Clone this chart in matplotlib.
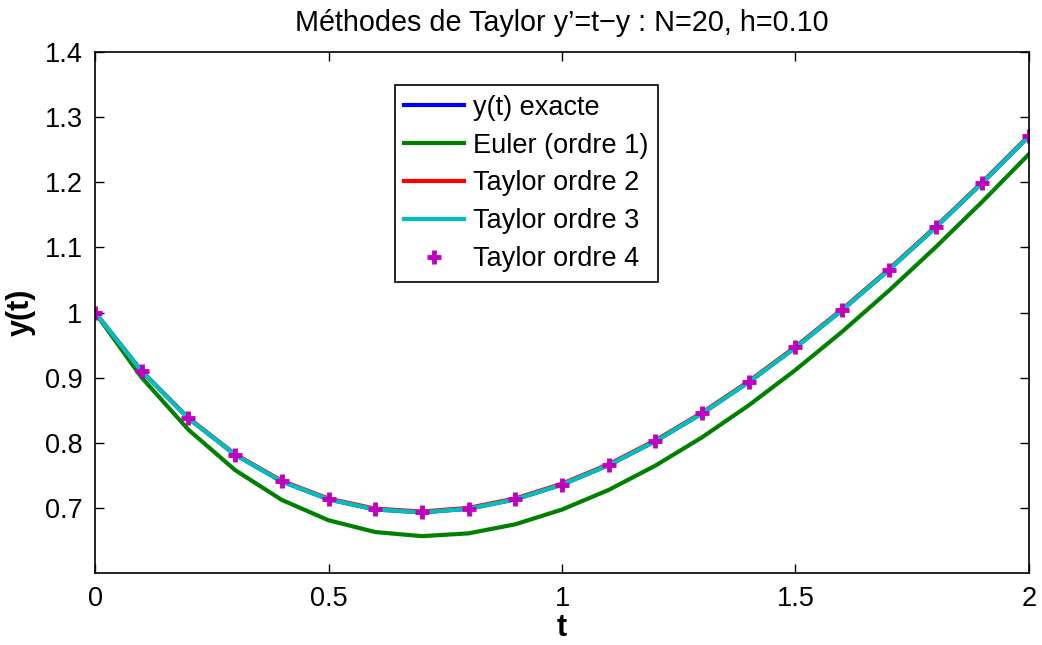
import matplotlib
matplotlib.use("Agg")
import matplotlib.pyplot as plt

# Données (pas h=0.10, N=20)
t = [0.0, 0.1, 0.2, 0.3, 0.4, 0.5, 0.6, 0.7, 0.8, 0.9, 1.0,
     1.1, 1.2, 1.3, 1.4, 1.5, 1.6, 1.7, 1.8, 1.9, 2.0]
y_exacte = [1.0000, 0.9097, 0.8375, 0.7816, 0.7406, 0.7131, 0.6976, 0.6932,
            0.6987, 0.7131, 0.7358, 0.7657, 0.8024, 0.8451, 0.8932, 0.9463,
            1.0038, 1.0654, 1.1306, 1.1991, 1.2707]
y_euler = [1.0000, 0.9000, 0.8200, 0.7580, 0.7122, 0.6810, 0.6629, 0.6566,
           0.6609, 0.6748, 0.6974, 0.7276, 0.7649, 0.8084, 0.8575, 0.9118,
           0.9706, 1.0335, 1.1002, 1.1702, 1.2432]
y_taylor2 = [1.0000, 0.9100, 0.8381, 0.7824, 0.7416, 0.7142, 0.6988, 0.6944,
             0.7000, 0.7145, 0.7371, 0.7671, 0.8037, 0.8463, 0.8944, 0.9475,
             1.0050, 1.0665, 1.1317, 1.2002, 1.2716]
y_taylor3 = [1.0000, 0.9097, 0.8375, 0.7816, 0.7406, 0.7131, 0.6976, 0.6932,
             0.6987, 0.7131, 0.7358, 0.7658, 0.8024, 0.8451, 0.8932, 0.9463,
             1.0038, 1.0654, 1.1306, 1.1992, 1.2707]
y_taylor4 = [1.0000, 0.9097, 0.8375, 0.7816, 0.7406, 0.7131, 0.6976, 0.6932,
             0.6987, 0.7131, 0.7358, 0.7657, 0.8024, 0.8451, 0.8932, 0.9463,
             1.0038, 1.0654, 1.1306, 1.1991, 1.2707]

xticks = [0, 0.5, 1, 1.5, 2]
xtick_labels = ["0", "0.5", "1", "1.5", "2"]
yticks = [0.7, 0.8, 0.9, 1.0, 1.1, 1.2, 1.3, 1.4]
ytick_labels = ["0.7", "0.8", "0.9", "1", "1.1", "1.2", "1.3", "1.4"]

plt.rcParams['font.family'] = ['Liberation Sans', 'DejaVu Sans']

fig = plt.figure(figsize=(10.42, 6.45), dpi=100)
ax = fig.add_axes([0.0912, 0.1116, 0.8963, 0.8078])

ax.plot(t, y_exacte, color='#0000ff', lw=3, label='y(t) exacte')
ax.plot(t, y_euler, color='#008000', lw=3, label='Euler (ordre 1)')
ax.plot(t, y_taylor2, color='#ff0000', lw=3, label='Taylor ordre 2')
ax.plot(t, y_taylor3, color='#00bfbf', lw=3, label='Taylor ordre 3')
ax.plot(t, y_taylor4, ls='none', marker='+', ms=10, mew=3.5,
        color='#bf00bf', label='Taylor ordre 4')

ax.set_xlim(0, 2)
ax.set_ylim(0.6, 1.4)
ax.set_xticks(xticks)
ax.set_xticklabels(xtick_labels)
ax.set_yticks(yticks)
ax.set_yticklabels(ytick_labels)
ax.tick_params(direction='in', length=6.5, width=1, labelsize=19.5,
               top=True, right=True, pad=9)
for s in ax.spines.values():
    s.set_linewidth(1.2)

ax.set_xlabel('t', fontsize=22, fontweight='bold', labelpad=1)
ax.set_ylabel('y(t)', fontsize=22, fontweight='bold', labelpad=6)
ax.set_title("Méthodes de Taylor y’=t−y : N=20, h=0.10", fontsize=20.7, pad=15)

leg = ax.legend(loc='upper left', bbox_to_anchor=(0.379, 0.868),
                bbox_transform=fig.transFigure, fontsize=19.5, fancybox=False,
                edgecolor='black', framealpha=1, handlelength=2.2,
                borderpad=0.35, labelspacing=0.44, handletextpad=0.35,
                borderaxespad=0)
leg.get_frame().set_linewidth(1.2)

fig.savefig('out.png', dpi=100)
